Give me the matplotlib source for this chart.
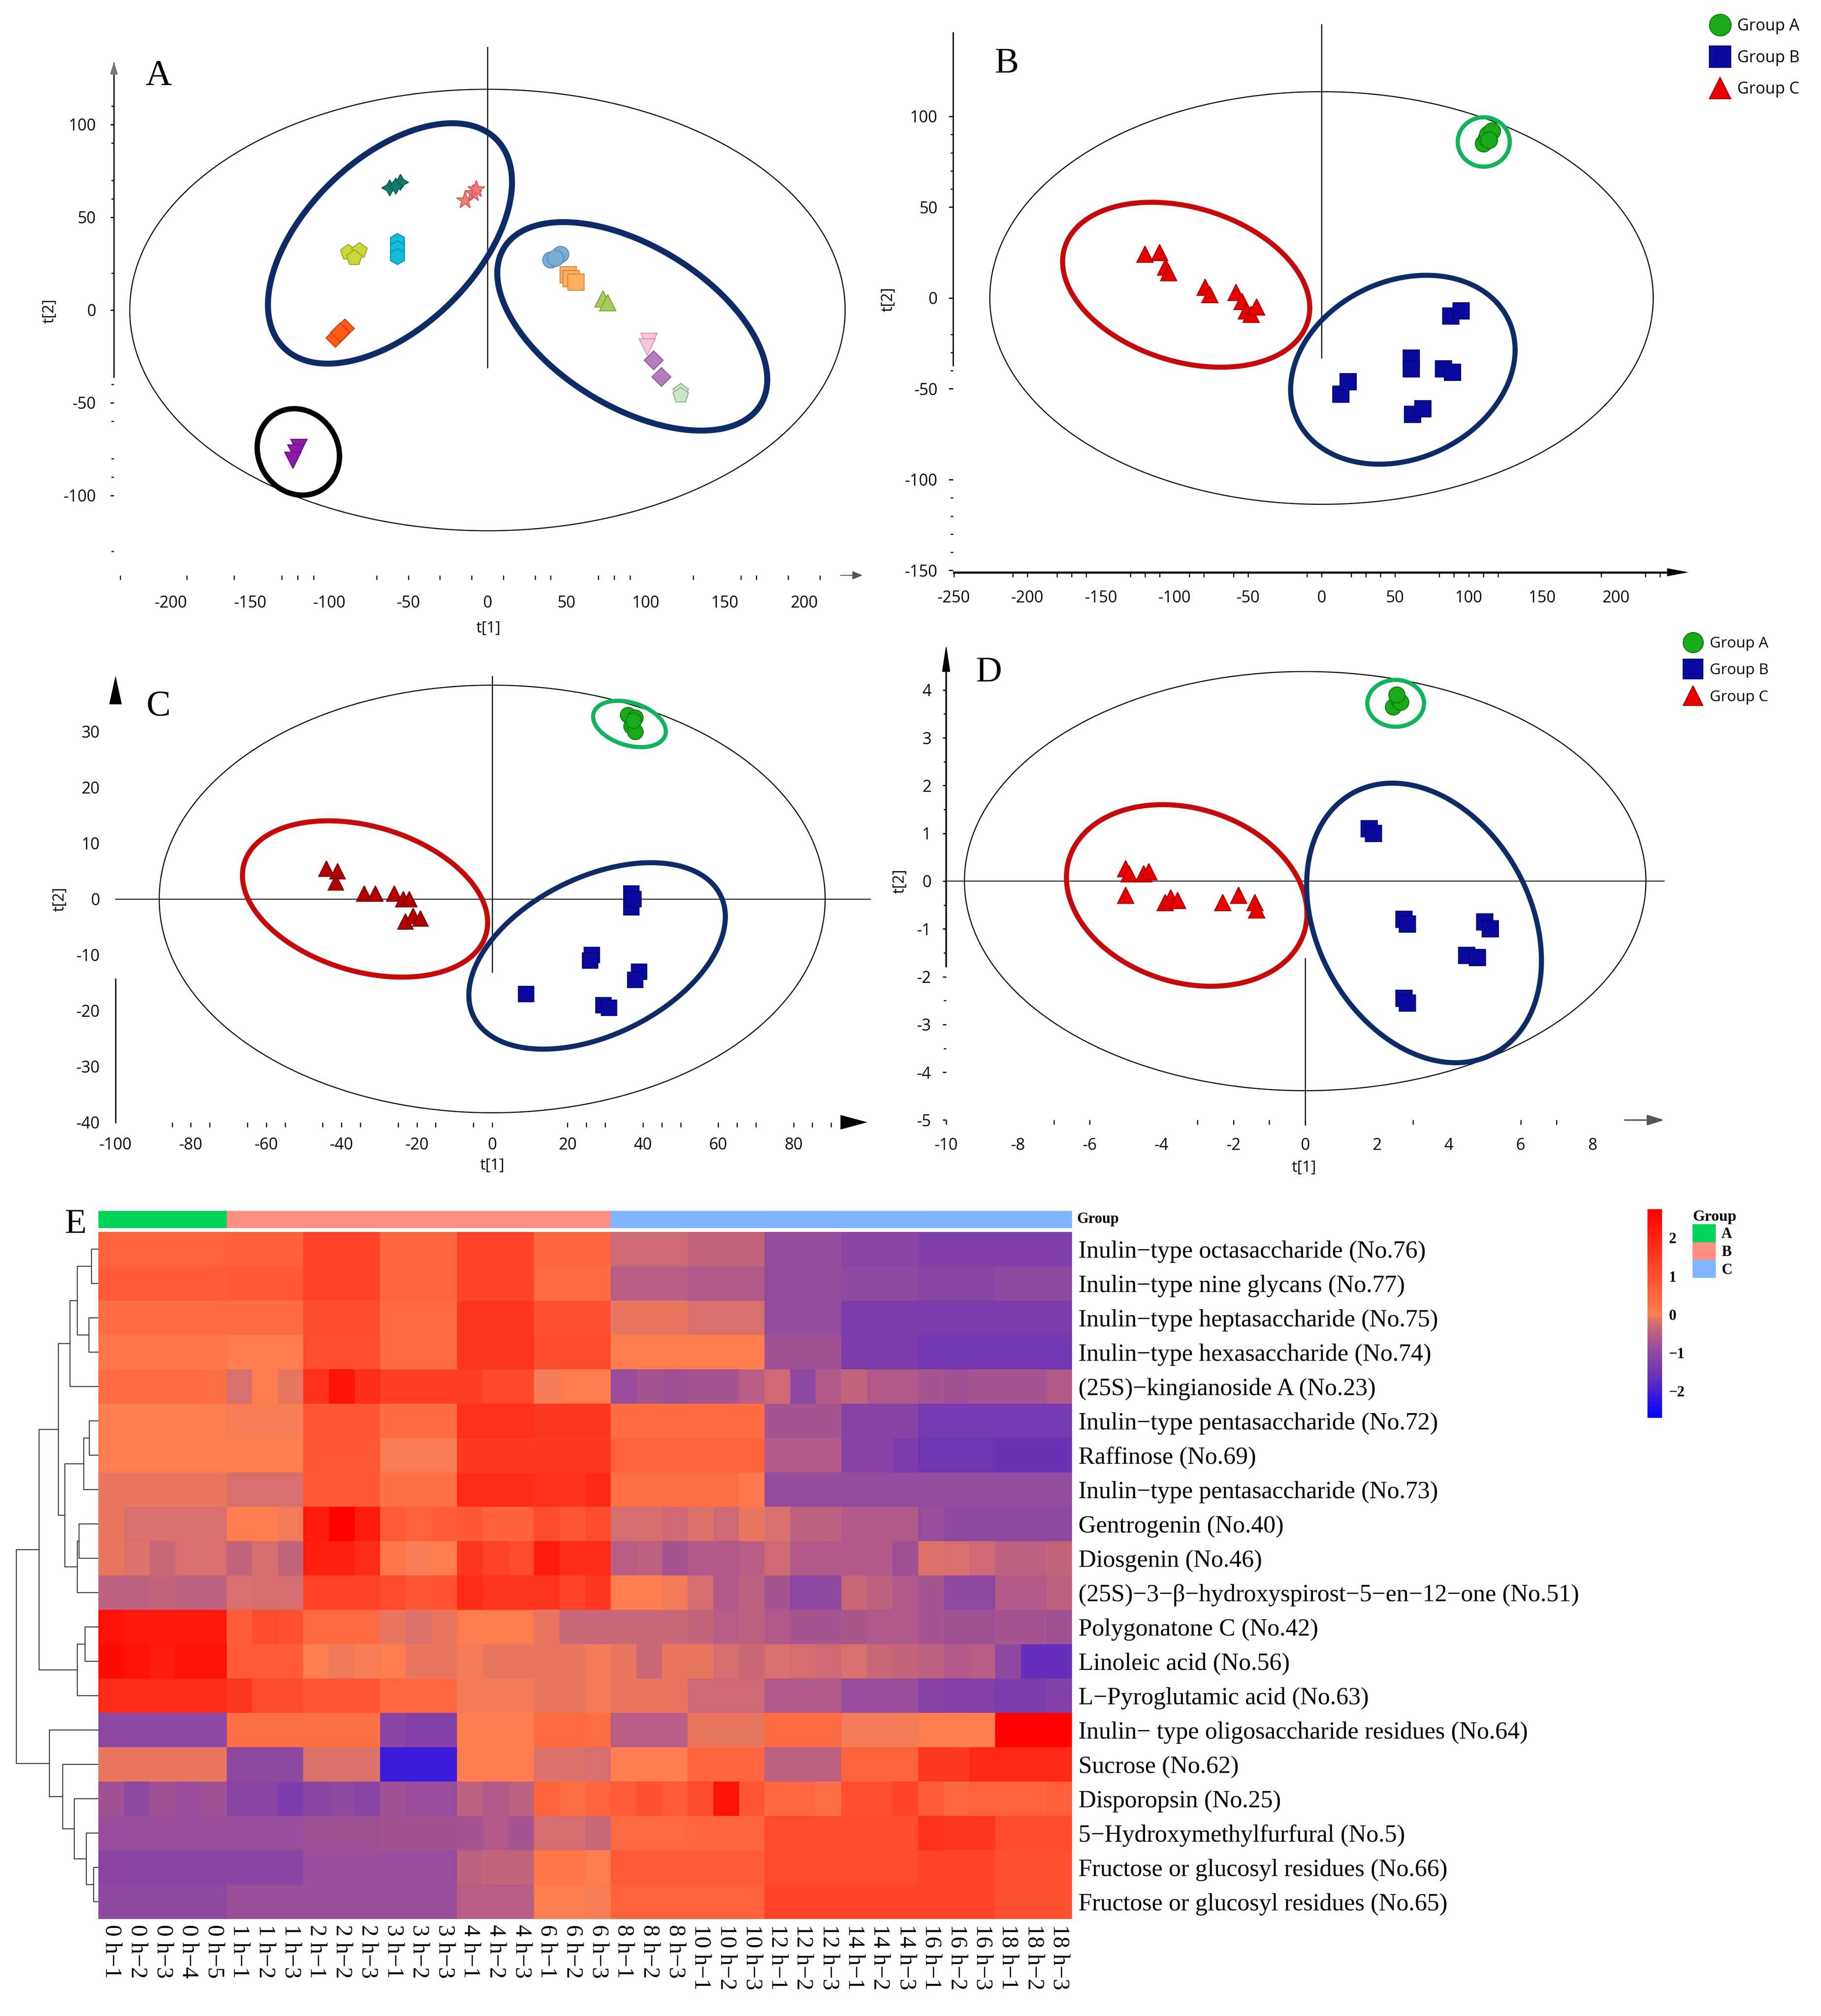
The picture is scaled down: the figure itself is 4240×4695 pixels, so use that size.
import numpy as np
import matplotlib
matplotlib.use("Agg")
import matplotlib.pyplot as plt
from matplotlib.colors import LinearSegmentedColormap, ListedColormap
from matplotlib.patches import Patch

plt.rcParams['font.family'] = 'Open Sans'
plt.rcParams['axes.unicode_minus'] = False

SERIF = 'Liberation Serif'
MINUS = '\u2212'

# ------------------------------------------------------------------ data
# panel A : PCA scores of all sampling points (12 clusters)
A_t1 = [[-62, -55, -58], [-14, -9, -7], [-88, -81, -84], [-57, -57, -57], [-96, -90, -93],
        [-119, -121, -123], [40, 46, 43], [51, 53, 56], [73, 76], [102, 101], [105, 110], [122, 122]]
A_t2 = [[66, 69, 67], [59, 63, 65], [31, 32, 28], [37, 33, 29], [-15, -10, -12],
        [-74, -77, -81], [27, 30, 28], [19, 17, 15], [6, 4], [-17, -20], [-27, -36], [-44, -46]]
A_marker = [(4, 1, 0), '*', 'p', 'h', 'D', 'v', 'o', 's', '^', 'v', 'D', 'p']
A_face = ['#127A6A', '#F27A78', '#CBD63A', '#12BCD8', '#FF5A1A', '#8A1AAA',
          '#7AAED6', '#FFAE60', '#A6CC5A', '#F8C8DC', '#B67CBE', '#CDE8C8']
A_edge = ['#0A5A4E', '#D05A58', '#9AA520', '#0A8EA8', '#C84010', '#6A0A8A',
          '#5A88B0', '#D08838', '#7EA038', '#D098B8', '#8C5A98', '#90AA90']

groups = ['Group A', 'Group B', 'Group C']

# panel B : PCA
B_t1 = {'Group A': [110, 112, 113, 116, 114],
        'Group B': [13, 18, 61, 61, 83, 89, 88, 95, 62, 69],
        'Group C': [-120, -110, -106, -104, -79, -76, -58, -54, -51, -48, -44]}
B_t2 = {'Group A': [85, 88, 90, 92, 87],
        'Group B': [-53, -46, -33, -39, -39, -41, -10, -7, -64, -61],
        'Group C': [24, 25, 17, 14, 6, 2, 3, -2, -7, -9, -5]}
# panel C
C_t1 = {'Group A': [36, 38, 37, 38, 37.5],
        'Group B': [37, 37, 37.5, 26.5, 26, 39, 38, 9, 29.5, 31],
        'Group C': [-44, -41, -41.5, -34, -31, -26, -23.6, -22, -23, -21, -19]}
C_t2 = {'Group A': [33, 32.5, 31, 30, 32],
        'Group B': [1, -1.5, 0, -10, -11, -13, -14.5, -17, -19, -19.5],
        'Group C': [5.4, 5, 3, 1, 1, 1, 0, 0, -4, -3, -3.5]}
# panel D
D_t1 = {'Group A': [2.45, 2.6, 2.65, 2.55],
        'Group B': [1.78, 1.9, 2.75, 2.85, 5.0, 5.15, 4.5, 4.8, 2.75, 2.85],
        'Group C': [-5.0, -4.9, -4.5, -4.35, -5.0, -3.9, -3.75, -3.55, -2.3, -1.85, -1.4, -1.35]}
D_t2 = {'Group A': [3.65, 3.8, 3.75, 3.9],
        'Group B': [1.1, 1.0, -0.8, -0.9, -0.85, -1.0, -1.55, -1.6, -2.45, -2.55],
        'Group C': [0.26, 0.15, 0.15, 0.2, -0.3, -0.45, -0.35, -0.4, -0.45, -0.3, -0.45, -0.6]}

# confidence ellipses (cx, cy, half width, half height, tilt)
A_ell = [(0, 0, 226, 119, 0.0), (-61.6, 35.9, 77.1, 64.8, 0.51),
         (91.5, -8.8, 85.3, 56.2, -0.51), (-119.5, -76.5, 26, 23.3, -0.1)]
B_ell = [(0, 0, 225.5, 113.6, 0.0), (-92, 7.3, 84, 45.4, -0.28),
         (55.3, -39.5, 76.3, 52, 0.21), (110.3, 85.9, 17.7, 13.6, 0.0)]
C_ell = [(0, 0, 88.4, 38.3, 0.0), (-33.75, 0, 32.55, 14, -0.30),
         (27.85, -10.2, 34.05, 16.7, 0.42), (36.45, 31.35, 9.65, 4.15, -0.32)]
D_ell = [(0, 0, 9.49, 4.385, 0.0), (-3.3, -0.3, 3.35, 1.9, -0.2),
         (3.31, -0.875, 3.27, 2.925, -0.27), (2.52, 3.72, 0.79, 0.49, 0.0)]

# panel E : heatmap (z-scores)
metabolites = [
    'Inulin\u2212type octasaccharide (No.76)', 'Inulin\u2212type nine glycans (No.77)',
    'Inulin\u2212type heptasaccharide (No.75)', 'Inulin\u2212type hexasaccharide (No.74)',
    '(25S)\u2212kingianoside A (No.23)', 'Inulin\u2212type pentasaccharide (No.72)',
    'Raffinose (No.69)', 'Inulin\u2212type pentasaccharide (No.73)', 'Gentrogenin (No.40)',
    'Diosgenin (No.46)', '(25S)\u22123\u2212\u03b2\u2212hydroxyspirost\u22125\u2212en\u221212\u2212one (No.51)',
    'Polygonatone C (No.42)', 'Linoleic acid (No.56)', 'L\u2212Pyroglutamic acid (No.63)',
    'Inulin\u2212 type oligosaccharide residues (No.64)', 'Sucrose (No.62)', 'Disporopsin (No.25)',
    '5\u2212Hydroxymethylfurfural (No.5)', 'Fructose or glucosyl residues (No.66)',
    'Fructose or glucosyl residues (No.65)']
time_points = [0, 1, 2, 3, 4, 6, 8, 10, 12, 14, 16, 18]
replicates = [5, 3, 3, 3, 3, 3, 3, 3, 3, 3, 3, 3]
sample_group = [0] * 5 + [1] * 15 + [2] * 18

heat_blocks = [
    [0.6, 0.65, 1.3, 0.55, 1.3, 0.55, -0.3, -0.4, -0.95, -1.1, -1.25, -1.25],
    [0.75, 0.8, 1.3, 0.55, 1.3, 0.45, -0.5, -0.6, -0.95, -1.0, -1.1, -1.0],
    [0.4, 0.4, 1.1, 0.45, 1.6, 1.0, -0.1, -0.2, -0.95, -1.3, -1.3, -1.3],
    [0.2, 0.05, 1.05, 0.45, 1.6, 1.1, 0.05, 0.05, -0.8, -1.3, -1.45, -1.45],
    [[0.45, 0.4, 0.4, 0.4, 0.35], [-0.2, 0.05, -0.1], [1.7, 2.4, 1.75], 1.4, [1.4, 1.2, 1.2],
     [-0.05, 0.05, 0.05], [-0.9, -0.7, -0.8], [-0.7, -0.7, -0.5], [-0.3, -1.05, -0.55],
     [-0.4, -0.6, -0.6], [-0.7, -0.8, -0.7], [-0.7, -0.7, -0.6]],
    [0.0, -0.03, 0.85, 0.45, 1.7, 1.6, 0.4, 0.4, -0.7, -1.15, -1.4, -1.4],
    [0.0, 0.0, 0.8, -0.02, 1.55, 1.55, 0.6, 0.6, -0.55, [-1.15, -1.15, -1.3], -1.5, -1.6],
    [-0.1, -0.2, 0.8, 0.35, 1.85, [1.7, 1.7, 1.9], 0.35, [0.35, 0.35, 0.15], -0.95, -0.95, -0.95, -0.95],
    [[-0.1, -0.2, -0.2, -0.2, -0.2], [0.05, 0.05, -0.05], [2.2, 2.7, 2.2], [0.75, 0.6, 0.75],
     [0.8, 0.65, 0.65], [1.1, 0.85, 1.1], [-0.25, -0.25, -0.3], [-0.15, -0.3, -0.1],
     [-0.2, -0.45, -0.45], [-0.55, -0.55, -0.6], [-0.9, -1.0, -1.0], -1.0],
    [[-0.1, -0.15, -0.35, -0.2, -0.2], [-0.4, -0.25, -0.4], [2.1, 2.1, 1.85], [0.2, -0.03, 0.05],
     [1.6, 1.3, 1.15], [2.2, 1.85, 1.85], [-0.5, -0.45, -0.7], [-0.6, -0.6, -0.5],
     [-0.3, -0.55, -0.6], [-0.6, -0.6, -0.8], [-0.15, -0.2, -0.3], [-0.45, -0.45, -0.4]],
    [[-0.45, -0.45, -0.4, -0.45, -0.45], [-0.2, -0.25, -0.25], 1.3, [1.15, 0.85, 0.95],
     [1.85, 1.65, 1.65], [1.65, 1.3, 1.55], [0.05, 0.05, -0.05], [-0.25, -0.6, -0.45],
     [-0.7, -1.05, -1.0], [-0.35, -0.45, -0.6], [-0.7, -1.0, -1.0], [-0.55, -0.55, -0.45]],
    [[2.4, 2.25, 2.25, 2.25, 2.25], [0.75, 1.1, 1.0], 0.45, [-0.1, -0.15, -0.1], 0.05,
     [-0.1, -0.35, -0.35], -0.35, [-0.4, -0.5, -0.45], [-0.6, -0.7, -0.7], [-0.65, -0.6, -0.6],
     [-0.7, -0.8, -0.8], [-0.7, -0.7, -0.8]],
    [[2.5, 2.4, 2.2, 2.4, 2.4], 0.75, [0.05, -0.07, -0.03], [0.05, -0.1, -0.1], [-0.05, -0.1, -0.1],
     [-0.1, -0.1, -0.05], [-0.1, -0.35, -0.1], [-0.1, -0.25, -0.35], [-0.2, -0.25, -0.3],
     [-0.2, -0.35, -0.4], [-0.45, -0.6, -0.5], [-1.0, -1.65, -1.65]],
    [1.85, [1.6, 1.15, 1.15], 0.85, 0.5, -0.05, [-0.1, -0.1, -0.05], -0.1, -0.3, -0.6,
     [-0.9, -0.9, -0.85], [-1.15, -1.2, -1.2], [-1.3, -1.3, -1.2]],
    [-1.05, 0.35, 0.35, [-1.1, -1.2, -1.2], 0.05, [0.45, 0.45, 0.35], -0.5, -0.1, 0.45, -0.05,
     [0.05, 0.0, 0.05], 2.7],
    [-0.1, -1.0, -0.15, -2.1, 0.05, [-0.15, -0.15, -0.2], 0.05, 0.55, -0.45, 0.6, [1.55, 1.55, 1.9], 1.9],
    [[-0.8, -1.0, -0.8, -0.9, -0.8], [-1.1, -1.1, -1.3], [-1.1, -1.0, -1.1], [-0.8, -0.9, -0.9],
     [-0.45, -0.55, -0.45], [0.6, 0.35, 0.55], [0.75, 1.0, 0.75], [1.1, 2.4, 0.85], [0.5, 0.5, 0.35],
     [1.05, 1.05, 1.3], [0.75, 0.5, 0.6], [0.6, 0.6, 0.7]],
    [-0.9, -0.9, -0.8, -0.75, [-0.7, -0.6, -0.7], [-0.25, -0.25, -0.35], 0.45, 0.55, 1.15, 1.15,
     [1.7, 1.6, 1.6], 1.15],
    [-1.1, -1.1, -0.9, -0.9, [-0.45, -0.4, -0.4], [0.2, 0.2, 0.05], 0.75, 0.75, 1.15, 1.15, 1.3, 1.0],
    [-1.0, -0.85, -0.85, -0.85, -0.5, [0.0, 0.0, -0.02], 0.6, 0.6, 1.3, 1.3, 1.3, 1.0],
]

# row dendrogram: (cluster a, cluster b, merge height), new clusters numbered from 20
row_merges = [(0, 1, 45), (2, 3, 63), (20, 21, 145), (22, 4, 195), (5, 6, 60), (24, 7, 100),
              (8, 9, 133), (26, 10, 145), (25, 27, 230), (23, 28, 275), (11, 12, 90), (30, 13, 145),
              (29, 31, 410), (18, 19, 30), (33, 17, 80), (34, 16, 165), (35, 15, 245), (36, 14, 340),
              (32, 37, 570)]


def expand(blocks):
    out = []
    for b, n in zip(blocks, replicates):
        out += list(b) if isinstance(b, list) else [b] * n
    return out


heat = np.array([expand(r) for r in heat_blocks])
sample_labels = ['%d h%s%d' % (t, MINUS, k + 1) for t, n in zip(time_points, replicates) for k in range(n)]

# ------------------------------------------------------------------ styles
NAVY = '#0D2B66'
RED_E = '#C40A0A'
GREEN_E = '#12B35A'
grp_marker = {'Group A': 'o', 'Group B': 's', 'Group C': '^'}
grp_face = {'Group A': '#18AA18', 'Group B': '#0A0A9E', 'Group C': '#E60000'}
grp_edge = {'Group A': '#0B7B0B', 'Group B': '#050570', 'Group C': '#A80000'}
ell_style = [('k', 1.8), (RED_E, 8.5), (NAVY, 8.5), (GREEN_E, 7)]

W, H = 4240, 4695
fig = plt.figure(figsize=(W / 100, H / 100), dpi=100)
TICK = 27


def ptext(x, y, s, **kw):
    fig.text(x / W, 1 - y / H, s, **kw)


def px_axes(x0, ppx, y0, ppy, xlim, ylim):
    left, right = x0 + xlim[0] * ppx, x0 + xlim[1] * ppx
    top, bottom = y0 - ylim[1] * ppy, y0 - ylim[0] * ppy
    ax = fig.add_axes([left / W, 1 - bottom / H, (right - left) / W, (bottom - top) / H])
    ax.set_xlim(xlim)
    ax.set_ylim(ylim)
    ax.patch.set_alpha(0)
    return ax


def ellipse(ax, cx, cy, wx, wy, r, color, lw):
    t = np.linspace(0, 2 * np.pi, 400)
    d = np.arccos(r)
    ax.plot(cx + wx * np.cos(t), cy + wy * np.cos(t - d), color=color, lw=lw, zorder=3,
            solid_capstyle='round')


def frame(ax, ysp, ybnd, xsp, xbnd, xticks, yticks, xminor, yminor, xpad, ypad, ylen, xlen, ylw=2.2, xlw=2.2):
    for s in ('top', 'right'):
        ax.spines[s].set_visible(False)
    ax.spines['left'].set_position(('data', ysp))
    ax.spines['left'].set_bounds(*ybnd)
    ax.spines['left'].set_linewidth(ylw)
    ax.spines['bottom'].set_position(('data', xsp))
    if xbnd is None:
        ax.spines['bottom'].set_color('none')
    else:
        ax.spines['bottom'].set_bounds(*xbnd)
        ax.spines['bottom'].set_linewidth(xlw)
    ax.xaxis.remove_overlapping_locs = False
    ax.yaxis.remove_overlapping_locs = False
    ax.set_xticks(xticks)
    ax.set_xticklabels([str(v) for v in xticks])
    ax.set_yticks(yticks)
    ax.set_yticklabels([str(v) for v in yticks])
    ax.set_xticks(xminor, minor=True)
    ax.set_yticks(yminor, minor=True)
    ax.tick_params(axis='x', which='major', length=0, pad=xpad, labelsize=TICK)
    ax.tick_params(axis='x', which='minor', length=xlen, width=1.8)
    ax.tick_params(axis='y', which='major', length=ylen, width=2, pad=ypad, labelsize=TICK)
    ax.tick_params(axis='y', which='minor', length=4, width=1.8)


def arrow(ax, tail, tip, color='k', lw=0.0, hl=0.8, hw=0.15, ms=45):
    ax.annotate('', xy=tip, xytext=tail, annotation_clip=False,
                arrowprops=dict(arrowstyle='-|>,head_length=%g,head_width=%g' % (hl, hw),
                                color=color, lw=lw, mutation_scale=ms, shrinkA=0, shrinkB=0))


def group_scores(ax, t1, t2, ms):
    hs = []
    for g in groups:
        h, = ax.plot(t1[g], t2[g], ls='none', marker=grp_marker[g], ms=ms, mfc=grp_face[g],
                     mec=grp_edge[g], mew=1.6, label=g, zorder=4)
        hs.append(h)
    return hs


# ------------------------------------------------------------------ panel A
axA = px_axes(1135, 3.685, 722, 4.32, (-245, 245), (-150, 150))
for e, (c, lw) in zip(A_ell, [('k', 1.8), (NAVY, 10), (NAVY, 10), ('k', 9)]):
    ellipse(axA, *e, c, lw)
for x, y, m, fc, ec in zip(A_t1, A_t2, A_marker, A_face, A_edge):
    axA.plot(x, y, ls='none', marker=m, ms=30 if m == '*' else (22 if m == 'D' else 27),
             mfc=fc, mec=ec, mew=1.6, zorder=4)
axA.plot([0, 0], [-31, 141.7], color='k', lw=1.8, zorder=2)
frame(axA, -236, (-36, 133), -143, None, list(range(-200, 201, 50)), [-100, -50, 0, 50, 100],
      [-232, -190, -160, -130, -120, -110, -70, -50, -30, -10, 10, 30, 40, 70, 80, 90, 130, 160, 170, 190, 210],
      [110, 90, 70, 60, 20, -40, -60, -80, -90, -130], 33, 24, 6, 7)
arrow(axA, (-236, 127), (-236, 134), color='#777777', hl=1.0, hw=0.3, ms=22)
arrow(axA, (223, -143), (237, -143), color='#555555', lw=1.5, hl=0.6, hw=0.25, ms=24)
ptext(1137, 1464, 't[1]', fontsize=26, ha='center', va='center')
ptext(115, 724, 't[2]', fontsize=26, ha='center', va='center', rotation=90)
ptext(338, 198, 'A', fontsize=61, family=SERIF)

# ------------------------------------------------------------------ panel B
axB = px_axes(3077, 3.425, 694, 4.23, (-262, 262), (-160, 160))
for e, (c, lw) in zip(B_ell, ell_style):
    ellipse(axB, *e, c, lw)
hB = group_scores(axB, B_t1, B_t2, 28)
axB.plot([0, 0], [-32.8, 150.6], color='k', lw=1.8, zorder=2)
frame(axB, -250.5, (-37, 146), -151, (-250, 236), list(range(-250, 201, 50)), list(range(-150, 101, 50)),
      [-250, -210, -200, -180, -170, -160, -130, -120, -110, -90, -80, -60, -50, -10, 0, 20, 30, 40, 50,
       80, 90, 100, 110, 120, 190, 220, 230],
      [90, 80, 70, 60, -20, -30, -40, -110, -120, -130, -140], 30, 19, 7, 8, xlw=3.5)
arrow(axB, (235, -151), (249.5, -151), hl=0.8, hw=0.15, ms=45)
ptext(2068, 697, 't[2]', fontsize=26, ha='center', va='center', rotation=90)
ptext(2316, 170, 'B', fontsize=61, family=SERIF)
axB.legend(handles=hB, loc='upper left', bbox_to_anchor=(3979 / W, 1 - 42 / H), bbox_transform=fig.transFigure,
           frameon=False, fontsize=27, markerscale=1.3, handlelength=1.4, handletextpad=0.37,
           labelspacing=0.95, borderpad=0, borderaxespad=0)

# ------------------------------------------------------------------ panel C
axC = px_axes(1146, 8.77, 2093.6, 13.0, (-104, 104), (-42, 42))
for e, (c, lw) in zip(C_ell, ell_style):
    ellipse(axC, *e, c, lw)
group_scores(axC, C_t1, C_t2, 26)
axC.lines[-1].set_markerfacecolor('#B00000')
axC.lines[-1].set_markeredgecolor('#780000')
axC.plot([-100, 100.4], [0, 0], color='k', lw=1.5, zorder=2)
axC.plot([0, 0], [-13.1, 39.9], color='k', lw=1.8, zorder=2)
frame(axC, -100, (-40, -14.3), -40, None, list(range(-100, 81, 20)), list(range(-40, 31, 10)),
      [-85, -80, -75, -65, -60, -55, -45, -40, -35, -25, -20, -15, -5, 0, 20, 25, 30, 40, 45, 50, 60,
       65, 70, 80, 85, 90], [], 25, 26.5, 0, 8)
arrow(axC, (-100, 36), (-100, 40), hl=1.0, hw=0.22, ms=48)
arrow(axC, (94.3, -40), (99.6, -40), hl=1.0, hw=0.27, ms=45)
ptext(1146, 2715, 't[1]', fontsize=26, ha='center', va='center')
ptext(139, 2094, 't[2]', fontsize=26, ha='center', va='center', rotation=90)
ptext(340, 1667, 'C', fontsize=61, family=SERIF)

# ------------------------------------------------------------------ panel D
axD = px_axes(3039, 83.6, 2052, 111.3, (-10.5, 10.5), (-5.3, 5.3))
for e, (c, lw) in zip(D_ell, ell_style):
    ellipse(axD, *e, c, lw)
hD = group_scores(axD, D_t1, D_t2, 27)
axD.plot([-10, 10], [0, 0], color='k', lw=1.5, zorder=2)
axD.plot([0, 0], [-5.1, -1.62], color='k', lw=1.8, zorder=2)
frame(axD, -10, (-1.79, 4.7), -5, None, list(range(-10, 9, 2)), list(range(-5, 5)),
      [-10, -7, -6, -3, -2, -1, 0, 3, 6, 7], [3.5, 2.5, 1.5, -0.5, -1.5, -2.5, -3.5], 29, 19, 6, 8, ylw=2.6)
arrow(axD, (-10, 4.5), (-10, 4.95), lw=1.5, hl=1.0, hw=0.15, ms=40)
arrow(axD, (8.9, -5), (10, -5), color='#555555', lw=2.5, hl=0.8, hw=0.25, ms=30)
ptext(3036, 2720, 't[1]', fontsize=26, ha='center', va='center')
ptext(2095, 2052, 't[2]', fontsize=26, ha='center', va='center', rotation=90)
ptext(2271, 1588, 'D', fontsize=61, family=SERIF)
axD.legend(handles=hD, loc='upper left', bbox_to_anchor=(3917 / W, 1 - 1482 / H), bbox_transform=fig.transFigure,
           frameon=False, fontsize=25.5, markerscale=1.25, handlelength=1.4, handletextpad=0.42,
           labelspacing=0.8, borderpad=0, borderaxespad=0)

# ------------------------------------------------------------------ panel E heatmap
VMIN, VMAX = -2.7, 2.75
cnodes = [(-2.7, '#0000FF'), (-1.6, '#6A32B6'), (-1.0, '#9048A0'), (-0.5, '#B85E84'),
          (-0.15, '#DC7268'), (0.0, '#FF8050'), (1.0, '#FF5030'), (2.0, '#FF2414'), (2.75, '#FF0000')]
cmap = LinearSegmentedColormap.from_list('heat', [((v - VMIN) / (VMAX - VMIN), c) for v, c in cnodes])
grp_cols = ['#00D35A', '#FF8E85', '#80B4FF']

HX0, HX1, HY0, HY1 = 229.3, 2496, 2869, 4469
n_rows, n_cols = heat.shape
axH = fig.add_axes([HX0 / W, 1 - HY1 / H, (HX1 - HX0) / W, (HY1 - HY0) / H])
mesh = axH.pcolormesh(np.arange(n_cols + 1) - 0.5, np.arange(n_rows + 1) - 0.5, heat,
                      cmap=cmap, vmin=VMIN, vmax=VMAX)
axH.set_xlim(-0.5, n_cols - 0.5)
axH.set_ylim(n_rows - 0.5, -0.5)
for s in axH.spines.values():
    s.set_visible(False)
axH.yaxis.tick_right()
axH.set_yticks(range(n_rows))
axH.set_yticklabels(metabolites, fontsize=41, family=SERIF)
axH.set_xticks(range(n_cols))
axH.set_xticklabels(sample_labels, fontsize=39, family=SERIF, rotation=270)
axH.tick_params(axis='y', length=0, pad=11)
axH.tick_params(axis='x', length=0, pad=9)

axG = fig.add_axes([HX0 / W, 1 - 2860 / H, (HX1 - HX0) / W, 40 / H])
axG.pcolormesh(np.arange(n_cols + 1) - 0.5, [0, 1], np.array([sample_group]),
               cmap=ListedColormap(grp_cols), vmin=-0.5, vmax=2.5)
axG.set_xlim(-0.5, n_cols - 0.5)
axG.axis('off')
ptext(2507, 2840, 'Group', fontsize=25, family=SERIF, weight='bold', va='center')

# dendrogram of rows
axR = fig.add_axes([38 / W, 1 - HY1 / H, (228 - 38) / W, (HY1 - HY0) / H])
pos = {i: i for i in range(n_rows)}
hgt = {i: 0 for i in range(n_rows)}
for k, (a, b, h) in enumerate(row_merges):
    axR.plot([hgt[a], h, h, hgt[b]], [pos[a], pos[a], pos[b], pos[b]], color='#3a3a3a', lw=1.7,
             clip_on=False)
    pos[n_rows + k] = (pos[a] + pos[b]) / 2
    hgt[n_rows + k] = h
axR.set_xlim(max(m[2] for m in row_merges), 0)
axR.set_ylim(n_rows - 0.5, -0.5)
axR.axis('off')

# colour key
cax = fig.add_axes([3836 / W, 1 - 3302 / H, 34 / W, 486 / H])
cb = fig.colorbar(mesh, cax=cax, ticks=[-2, -1, 0, 1, 2])
cb.outline.set_visible(False)
cb.ax.set_yticklabels([MINUS + '2', MINUS + '1', '0', '1', '2'], family=SERIF, weight='bold', fontsize=25)
cb.ax.tick_params(length=0, pad=11)

axH.legend(handles=[Patch(facecolor=c, edgecolor='none') for c in grp_cols], labels=['A', 'B', 'C'],
           title='Group', loc='upper left', bbox_to_anchor=(3941 / W, 1 - 2818 / H),
           bbox_transform=fig.transFigure, frameon=False,
           prop={'family': SERIF, 'weight': 'bold', 'size': 25},
           title_fontproperties={'family': SERIF, 'weight': 'bold', 'size': 26},
           handlelength=1.56, handleheight=1.47, labelspacing=0, handletextpad=0.37,
           borderpad=0, borderaxespad=0, alignment='left')

ptext(151, 2872, 'E', fontsize=60, family=SERIF)

fig.savefig('out.png', dpi=100)
